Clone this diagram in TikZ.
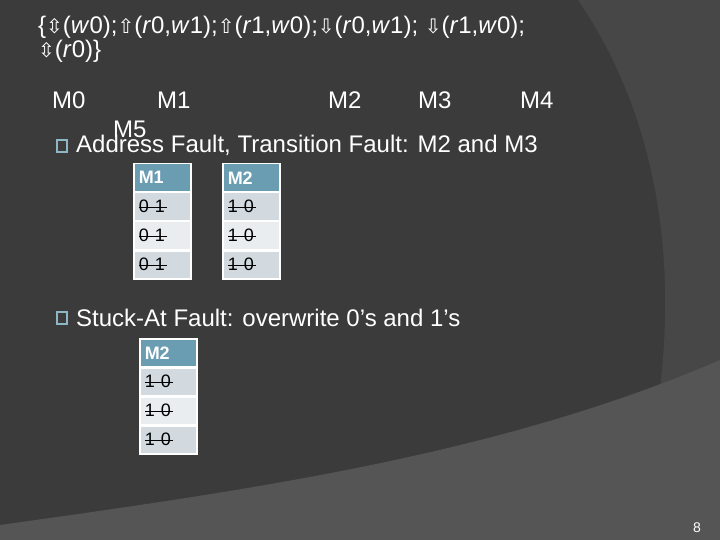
\documentclass[tikz,border=0pt]{standalone}
\usepackage{fontspec}
\setmainfont{Liberation Sans}
\newfontfamily\arrowfont{DejaVu Sans}
\begin{document}
\begin{tikzpicture}[x=1pt,y=-1pt,
  txt/.style={anchor=base west,inner sep=0,text=white,font=\fontsize{24}{26}\selectfont},
  hdr/.style={fill=hdrc,draw=white,line width=1.5pt,minimum width=57,minimum height=28,anchor=north west,text=white,font=\bfseries\fontsize{18}{19}\selectfont,text width=47,align=left},
  rowa/.style={hdr,fill=rowac,text=black,font=\fontsize{18}{19}\selectfont},
  rowb/.style={rowa,fill=rowbc}]
\definecolor{bg}{HTML}{3B3B3B}
\definecolor{bg2}{HTML}{474747}
\definecolor{bg3}{HTML}{555555}
\definecolor{hdrc}{HTML}{6A9DB2}
\definecolor{rowac}{HTML}{D2DADF}
\definecolor{rowbc}{HTML}{E9EDF0}
\definecolor{bul}{HTML}{8FB6C4}
\useasboundingbox (0,0) rectangle (720,540);
\fill[bg] (0,0) rectangle (720,540);
\fill[bg2] (578,0) .. controls (640,90) and (680,220) .. (660,388) -- (720,360) -- (720,0) -- cycle;
\fill[bg3] (0,525) .. controls (250,490) and (500,455) .. (720,360) -- (720,540) -- (0,540) -- cycle;
\newcommand\ar[1]{{\arrowfont\fontsize{20}{21}\selectfont#1}}
\node[txt] (l1) at (38,34) {\{\ar{⇳}(\textit{w}0);\ar{⇧}(\textit{r}0,\textit{w}1);\ar{⇧}(\textit{r}1,\textit{w}0);\ar{⇩}(\textit{r}0,\textit{w}1); \ar{⇩}(\textit{r}1,\textit{w}0);};
\node[txt] (l2) at (38,58) {\ar{⇳}(\textit{r}0)\}};
\node[txt] (m0) at (52,109) {M0};
\node[txt] (m1) at (157,109) {M1};
\node[txt] (m2) at (328,109) {M2};
\node[txt] (m3) at (418,109) {M3};
\node[txt] (m4) at (520,109) {M4};
\node[txt] (m5) at (113,138) {M5};
\draw[bul,line width=1.3pt] (57,140) rectangle (67,152);
\node[txt] (af) at (76,153) {Address Fault, Transition Fault: M2 and M3};
\draw[bul,line width=1.3pt] (57,312) rectangle (67,324);
\node[txt] (sa) at (76,326) {Stuck-At Fault: overwrite 0’s and 1’s};
\node[hdr] (a0) at (133,163) {M1};
\node[rowa] (a1) at (133,192) {0 1};
\node[rowb] (a2) at (133,221) {0 1};
\node[rowa] (a3) at (133,250) {0 1};
\node[hdr] (b0) at (222,163) {M2};
\node[rowa] (b1) at (222,192) {1 0};
\node[rowb] (b2) at (222,221) {1 0};
\node[rowa] (b3) at (222,250) {1 0};
\node[hdr] (c0) at (139,338) {M2};
\node[rowa] (c1) at (139,367) {1 0};
\node[rowb] (c2) at (139,396) {1 0};
\node[rowa] (c3) at (139,425) {1 0};
\foreach \n in {a1,a2,a3,b1,b2,b3,c1,c2,c3}
  \draw[black,line width=1.3pt] ([xshift=6pt]\n.west) ++(0,0.5) -- ++(28,0);
\node[anchor=base west,inner sep=0,text=white,font=\fontsize{14}{15}\selectfont] (pg) at (693,532) {8};
\end{tikzpicture}
\end{document}
